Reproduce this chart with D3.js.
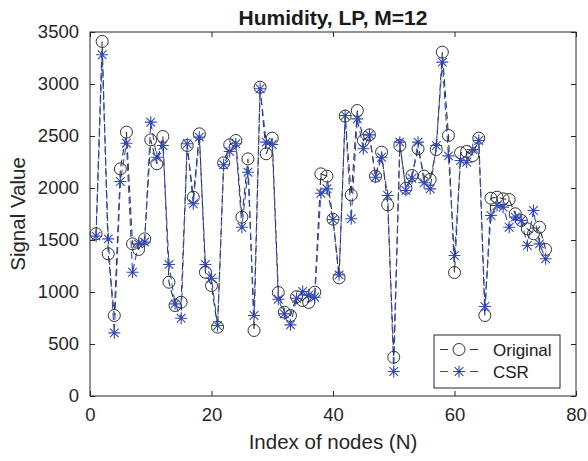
<!DOCTYPE html>
<html>
<head>
<meta charset="utf-8">
<script src="https://cdn.jsdelivr.net/npm/d3@7"></script>
<style>
  body { margin: 0; background: #fff; }
  text { font-family: "Liberation Sans", Arial, sans-serif; }
</style>
</head>
<body>
<svg id="chart" width="588" height="461"></svg>
<script>
const title = "Humidity, LP, M=12";
const xLabel = "Index of nodes (N)";
const yLabel = "Signal Value";
const xTicks = [0, 20, 40, 60, 80];
const yTicks = [0, 500, 1000, 1500, 2000, 2500, 3000, 3500];
const seriesNames = ["Original", "CSR"];

const nodes = d3.range(1, 76);
const original = [
  1560, 3409, 1367, 774, 2184, 2537, 1463, 1409, 1511, 2463,
  2233, 2495, 1094, 870, 902, 2409, 1912, 2521, 1190, 1062,
  662, 2242, 2415, 2457, 1720, 2280, 630, 2969, 2329, 2479,
  995, 806, 774, 955, 918, 900, 998, 2136, 2114, 1700,
  1136, 2691, 1934, 2745, 2457, 2511, 2114, 2345, 1838, 373,
  2409, 1998, 2120, 2377, 2114, 2082, 2370, 3306, 2505, 1187,
  2338, 2351, 2312, 2479, 774, 1902, 1912, 1896, 1889, 1752,
  1688, 1607, 1560, 1623, 1409
];
const csr = [
  1537, 3281, 1511, 607, 2062, 2431, 1190, 1463, 1480, 2633,
  2296, 2409, 1264, 886, 748, 2425, 1848, 2489, 1264, 1132,
  678, 2223, 2351, 2425, 1623, 2152, 774, 2954, 2441, 2418,
  930, 790, 684, 940, 1005, 970, 950, 1950, 1992, 1697,
  1165, 2697, 1704, 2665, 2377, 2511, 2104, 2296, 1928, 236,
  2441, 1976, 2094, 2441, 2050, 1992, 2409, 3210, 2309, 1351,
  2264, 2248, 2370, 2457, 861, 1736, 1832, 1816, 1623, 1720,
  1688, 1447, 1784, 1463, 1319
];

const colors = ["#333333", "#3348b8"];

const svg = d3.select("#chart");
const L = 90, R = 576, T = 32, B = 396;
const x = d3.scaleLinear().domain([0, 80]).range([L, R]);
const y = d3.scaleLinear().domain([0, 3500]).range([B, T]);

// frame
svg.append("rect").attr("x", L).attr("y", T).attr("width", R - L).attr("height", B - T)
  .attr("fill", "#fff").attr("stroke", "#262626").attr("stroke-width", 1);

// axes (ticks inward)
const axisColor = "#262626";
const gx = svg.append("g").attr("transform", `translate(0,${B})`)
  .call(d3.axisBottom(x).tickValues(xTicks).tickSize(-5).tickPadding(12).tickFormat(d3.format("d")));
const gxTop = svg.append("g").attr("transform", `translate(0,${T})`)
  .call(d3.axisTop(x).tickValues(xTicks).tickSize(-5).tickFormat(""));
const gy = svg.append("g").attr("transform", `translate(${L},0)`)
  .call(d3.axisLeft(y).tickValues(yTicks).tickSize(-5).tickPadding(11).tickFormat(d3.format("d")));
const gyR = svg.append("g").attr("transform", `translate(${R},0)`)
  .call(d3.axisRight(y).tickValues(yTicks).tickSize(-5).tickFormat(""));
[gx, gxTop, gy, gyR].forEach(g => {
  g.select(".domain").remove();
  g.selectAll(".tick line").attr("stroke", axisColor);
  g.selectAll("text").attr("fill", "#262626").style("font-size", "18.5px");
});

// lines and markers
const seriesData = [original, csr];
const lineGen = d3.line().x((d, i) => x(nodes[i])).y(d => y(d));

function starPath(s) {
  const d = s * 0.72;
  return `M${-s},0L${s},0M0,${-s}L0,${s}M${-d},${-d}L${d},${d}M${-d},${d}L${d},${-d}`;
}

seriesData.forEach((vals, k) => {
  svg.append("path").datum(vals)
    .attr("d", lineGen)
    .attr("fill", "none")
    .attr("stroke", colors[k])
    .attr("stroke-width", 1.1)
    .attr("stroke-dasharray", "7,4");
});

// original circles
svg.append("g").selectAll("circle").data(original).join("circle")
  .attr("cx", (d, i) => x(nodes[i])).attr("cy", d => y(d)).attr("r", 6)
  .attr("fill", "none").attr("stroke", colors[0]).attr("stroke-width", 1);

// csr stars
svg.append("g").selectAll("path").data(csr).join("path")
  .attr("transform", (d, i) => `translate(${x(nodes[i])},${y(d)})`)
  .attr("d", starPath(6))
  .attr("fill", "none").attr("stroke", colors[1]).attr("stroke-width", 1.1);

// title and labels
svg.append("text").attr("x", (L + R) / 2).attr("y", 25).attr("text-anchor", "middle")
  .style("font-size", "21px").style("font-weight", "bold").attr("fill", "#1a1a1a").text(title);
svg.append("text").attr("x", (L + R) / 2).attr("y", 449).attr("text-anchor", "middle")
  .style("font-size", "20.5px").attr("fill", "#262626").text(xLabel);
svg.append("text").attr("transform", `translate(25,${(T + B) / 2}) rotate(-90)`).attr("text-anchor", "middle")
  .style("font-size", "20.5px").attr("fill", "#262626").text(yLabel);

// legend
const lg = svg.append("g");
lg.append("rect").attr("x", 434).attr("y", 335).attr("width", 126).attr("height", 53)
  .attr("fill", "#fff").attr("stroke", "#262626").attr("stroke-width", 1);
seriesNames.forEach((name, k) => {
  const ly = 349.5 + k * 22;
  lg.append("line").attr("x1", 440).attr("x2", 478).attr("y1", ly).attr("y2", ly)
    .attr("stroke", colors[k]).attr("stroke-width", 1.1).attr("stroke-dasharray", "8,22");
  if (k === 0) {
    lg.append("circle").attr("cx", 459).attr("cy", ly).attr("r", 6)
      .attr("fill", "none").attr("stroke", colors[0]);
  } else {
    lg.append("path").attr("transform", `translate(459,${ly})`).attr("d", starPath(6))
      .attr("fill", "none").attr("stroke", colors[1]).attr("stroke-width", 1.1);
  }
  lg.append("text").attr("x", 493).attr("y", ly + 6.5).style("font-size", "17px")
    .attr("fill", "#1a1a1a").text(name);
});
</script>
</body>
</html>
